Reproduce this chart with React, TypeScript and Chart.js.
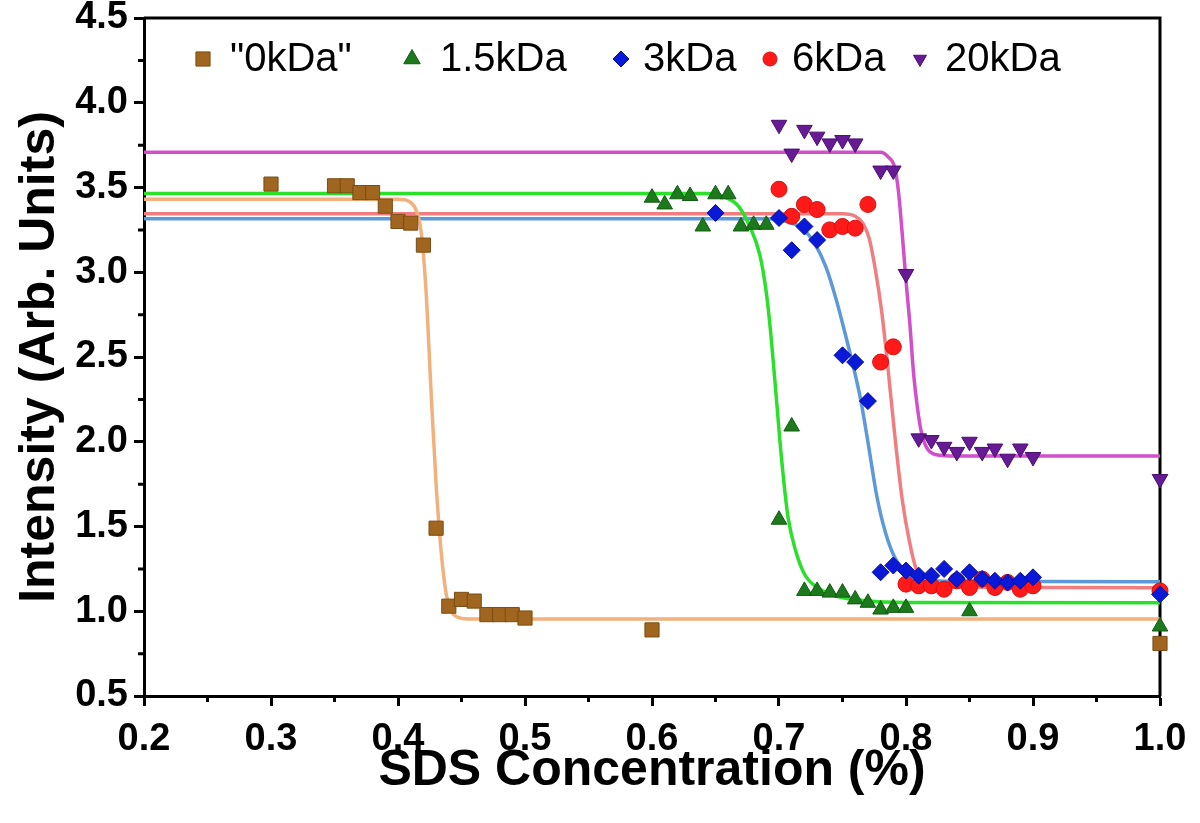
import React, { useRef, useEffect } from 'react';
import Chart from 'chart.js/auto';
import { drawPoint } from 'chart.js/helpers';

const kda0X = [0.30, 0.35, 0.36, 0.37, 0.38, 0.39, 0.40, 0.41, 0.42, 0.43, 0.44, 0.45, 0.46, 0.47, 0.48, 0.49, 0.50, 0.60, 1.00];
const kda0Y = [3.52, 3.51, 3.51, 3.47, 3.47, 3.39, 3.30, 3.29, 3.16, 1.49, 1.03, 1.07, 1.06, 0.98, 0.98, 0.98, 0.96, 0.89, 0.81];

const kda15X = [0.60, 0.61, 0.62, 0.63, 0.64, 0.65, 0.66, 0.67, 0.68, 0.69, 0.70, 0.71, 0.72, 0.73, 0.74, 0.75, 0.76, 0.77, 0.78, 0.79, 0.80, 0.85, 1.00];
const kda15Y = [3.44, 3.40, 3.46, 3.45, 3.27, 3.46, 3.46, 3.27, 3.28, 3.28, 1.54, 2.09, 1.12, 1.12, 1.11, 1.11, 1.07, 1.05, 1.01, 1.02, 1.02, 1.00, 0.91];

const kda3X = [0.65, 0.70, 0.71, 0.72, 0.73, 0.75, 0.76, 0.77, 0.78, 0.79, 0.80, 0.81, 0.82, 0.83, 0.84, 0.85, 0.86, 0.87, 0.88, 0.89, 0.90, 1.00];
const kda3Y = [3.35, 3.32, 3.13, 3.27, 3.19, 2.51, 2.47, 2.24, 1.23, 1.27, 1.24, 1.21, 1.21, 1.25, 1.19, 1.23, 1.19, 1.18, 1.17, 1.18, 1.20, 1.10];

const kda6X = [0.70, 0.71, 0.72, 0.73, 0.74, 0.75, 0.76, 0.77, 0.78, 0.79, 0.80, 0.81, 0.82, 0.83, 0.84, 0.85, 0.86, 0.87, 0.88, 0.89, 0.90, 1.00];
const kda6Y = [3.49, 3.33, 3.40, 3.37, 3.25, 3.27, 3.26, 3.40, 2.47, 2.56, 1.16, 1.15, 1.15, 1.13, 1.18, 1.14, 1.19, 1.14, 1.17, 1.13, 1.15, 1.12];

const kda20X = [0.70, 0.71, 0.72, 0.73, 0.74, 0.75, 0.76, 0.78, 0.79, 0.80, 0.81, 0.82, 0.83, 0.84, 0.85, 0.86, 0.87, 0.88, 0.89, 0.90, 1.00];
const kda20Y = [3.87, 3.70, 3.84, 3.80, 3.76, 3.78, 3.76, 3.60, 3.60, 2.99, 2.02, 2.01, 1.97, 1.94, 2.00, 1.94, 1.96, 1.90, 1.96, 1.91, 1.78];

// fitted sigmoid curves
const fit0X = [0.20, 0.40, 0.408, 0.414, 0.418, 0.422, 0.426, 0.430, 0.434, 0.438, 0.442, 0.447, 0.455, 1.00];
const fit0Y = [3.43, 3.43, 3.42, 3.37, 3.25, 2.90, 2.30, 1.75, 1.35, 1.10, 1.00, 0.965, 0.955, 0.955];

const fit15X = [0.20, 0.645, 0.658, 0.668, 0.677, 0.685, 0.690, 0.694, 0.698, 0.702, 0.707, 0.713, 0.720, 0.730, 0.745, 0.770, 0.800, 1.00];
const fit15Y = [3.465, 3.465, 3.44, 3.39, 3.27, 3.10, 2.88, 2.60, 2.25, 1.90, 1.56, 1.36, 1.22, 1.14, 1.09, 1.06, 1.052, 1.05];

const fit3X = [0.20, 0.690, 0.705, 0.718, 0.728, 0.737, 0.745, 0.752, 0.758, 0.764, 0.770, 0.777, 0.784, 0.791, 0.800, 0.812, 0.830, 1.00];
const fit3Y = [3.315, 3.315, 3.30, 3.26, 3.17, 3.03, 2.84, 2.64, 2.46, 2.26, 2.00, 1.68, 1.46, 1.32, 1.23, 1.19, 1.177, 1.174];

const fit6X = [0.20, 0.750, 0.760, 0.766, 0.771, 0.776, 0.781, 0.786, 0.791, 0.797, 0.803, 0.808, 0.815, 0.830, 1.00];
const fit6Y = [3.345, 3.345, 3.33, 3.29, 3.20, 3.01, 2.76, 2.42, 2.05, 1.66, 1.40, 1.25, 1.17, 1.142, 1.139];

const fit20X = [0.20, 0.780, 0.786, 0.791, 0.794, 0.797, 0.800, 0.803, 0.806, 0.809, 0.812, 0.816, 0.823, 0.840, 1.00];
const fit20Y = [3.708, 3.708, 3.68, 3.62, 3.48, 3.23, 2.95, 2.70, 2.40, 2.20, 2.06, 1.97, 1.925, 1.916, 1.916];

const xTicks = [0.2, 0.3, 0.4, 0.5, 0.6, 0.7, 0.8, 0.9, 1.0];
const yTicks = [0.5, 1.0, 1.5, 2.0, 2.5, 3.0, 3.5, 4.0, 4.5];

const FONT = "'Liberation Sans', Arial, Helvetica, sans-serif";

const series = [
  { label: '"0kDa"', x: kda0X, y: kda0Y, fx: fit0X, fy: fit0Y, style: 'rect', rot: 0, r: 10, fill: '#A0661F', edge: '#7A4C12', line: '#F2B07C' },
  { label: '1.5kDa', x: kda15X, y: kda15Y, fx: fit15X, fy: fit15Y, style: 'triangle', rot: 0, r: 9, fill: '#1C7A1C', edge: '#125A12', line: '#2BE02B' },
  { label: '3kDa', x: kda3X, y: kda3Y, fx: fit3X, fy: fit3Y, style: 'rectRot', rot: 0, r: 8.5, fill: '#0A18D8', edge: '#0610A0', line: '#5C98DA' },
  { label: '6kDa', x: kda6X, y: kda6Y, fx: fit6X, fy: fit6Y, style: 'circle', rot: 0, r: 8, fill: '#FF1A1A', edge: '#D81010', line: '#F07E80' },
  { label: '20kDa', x: kda20X, y: kda20Y, fx: fit20X, fy: fit20Y, style: 'triangle', rot: 180, r: 9, fill: '#661A94', edge: '#4A0F70', line: '#D24FCB' },
];

// legend slots relative to the plot's left edge
const legendMarkX = [59, 268, 477, 626, 776];
const legendTextX = [86, 296, 499, 648, 801];
const legendMarkR = [10, 9.5, 8, 7, 7.5];

const framePlugin = {
  id: 'frameAndMinor',
  beforeDatasetsDraw(chart: any) {
    const { ctx, chartArea, scales } = chart;
    ctx.save();
    ctx.strokeStyle = '#000';
    ctx.lineWidth = 3;
    ctx.beginPath();
    ctx.moveTo(chartArea.left, chartArea.top);
    ctx.lineTo(chartArea.right, chartArea.top);
    ctx.lineTo(chartArea.right, chartArea.bottom);
    ctx.stroke();
    // minor ticks
    ctx.beginPath();
    for (let i = 0; i < xTicks.length - 1; i++) {
      const px = scales.x.getPixelForValue((xTicks[i] + xTicks[i + 1]) / 2);
      ctx.moveTo(px, chartArea.bottom);
      ctx.lineTo(px, chartArea.bottom + 6);
    }
    for (let i = 0; i < yTicks.length - 1; i++) {
      const py = scales.y.getPixelForValue((yTicks[i] + yTicks[i + 1]) / 2);
      ctx.moveTo(chartArea.left, py);
      ctx.lineTo(chartArea.left - 6, py);
    }
    ctx.stroke();
    ctx.restore();
  },
};

const legendPlugin = {
  id: 'insideLegend',
  afterDatasetsDraw(chart: any) {
    const { ctx, chartArea } = chart;
    ctx.save();
    ctx.font = `40px ${FONT}`;
    ctx.textBaseline = 'middle';
    ctx.textAlign = 'left';
    const cy = chartArea.top + 41;
    series.forEach((s, i) => {
      ctx.fillStyle = s.fill;
      ctx.strokeStyle = s.edge;
      ctx.lineWidth = 1;
      drawPoint(ctx, { pointStyle: s.style as any, rotation: s.rot, radius: legendMarkR[i], borderWidth: 1 }, chartArea.left + legendMarkX[i], cy);
      ctx.fillStyle = '#000';
      ctx.fillText(s.label, chartArea.left + legendTextX[i], cy + 1);
    });
    ctx.restore();
  },
};

const App: React.FC = () => {
  const canvasRef = useRef<HTMLCanvasElement>(null);
  const chartRef = useRef<Chart | null>(null);

  useEffect(() => {
    if (!canvasRef.current) return;
    if (chartRef.current) chartRef.current.destroy();

    const markerSets = series.map((s) => ({
      label: s.label,
      data: s.x.map((v, i) => ({ x: v, y: s.y[i] })),
      pointStyle: s.style,
      rotation: s.rot,
      pointRadius: s.r,
      pointBackgroundColor: s.fill,
      pointBorderColor: s.edge,
      pointBorderWidth: 1,
      backgroundColor: s.fill,
      borderColor: s.edge,
      showLine: false,
      clip: false as any,
      order: 0,
    }));

    const curveSets = series.map((s) => ({
      label: s.label + ' fit',
      data: s.fx.map((v, i) => ({ x: v, y: s.fy[i] })),
      showLine: true,
      borderColor: s.line,
      borderWidth: 3.5,
      pointRadius: 0,
      cubicInterpolationMode: 'monotone' as const,
      order: 1,
    }));

    const tickFont = { family: FONT, size: 38, weight: 'bold' as const };
    const titleFont = { family: FONT, size: 50, weight: 'bold' as const };

    chartRef.current = new Chart(canvasRef.current, {
      type: 'scatter',
      data: { datasets: [...markerSets, ...curveSets] as any },
      options: {
        animation: false,
        responsive: true,
        maintainAspectRatio: false,
        layout: { padding: { top: 18, right: 40, left: 0, bottom: 0 } },
        plugins: {
          legend: { display: false },
          tooltip: { enabled: false },
        },
        scales: {
          x: {
            type: 'linear',
            min: 0.2,
            max: 1.0,
            afterBuildTicks: (scale: any) => {
              scale.ticks = xTicks.map((v) => ({ value: v }));
            },
            afterFit: (scale: any) => {
              scale.height = 127;
              scale.paddingLeft = 0;
              scale.paddingRight = 0;
            },
            ticks: {
              color: '#000',
              font: tickFont,
              padding: 11,
              autoSkip: false,
              maxRotation: 0,
              callback: (v: any) => Number(v).toFixed(1),
            },
            grid: { drawOnChartArea: false, tickLength: 10, tickWidth: 3, tickColor: '#000' },
            border: { color: '#000', width: 3 },
            title: {
              display: true,
              text: 'SDS Concentration (%)',
              color: '#000',
              font: titleFont,
              padding: { top: 0, bottom: 22 },
            },
          },
          y: {
            type: 'linear',
            min: 0.5,
            max: 4.5,
            afterBuildTicks: (scale: any) => {
              scale.ticks = yTicks.map((v) => ({ value: v }));
            },
            afterFit: (scale: any) => {
              scale.width = 144;
              scale.paddingTop = 0;
              scale.paddingBottom = 0;
            },
            ticks: {
              color: '#000',
              font: tickFont,
              padding: 6,
              autoSkip: false,
              callback: (v: any) => Number(v).toFixed(1),
            },
            grid: { drawOnChartArea: false, tickLength: 10, tickWidth: 3, tickColor: '#000' },
            border: { color: '#000', width: 3 },
            title: {
              display: true,
              text: 'Intensity (Arb. Units)',
              color: '#000',
              font: titleFont,
              padding: { top: 10, bottom: 0 },
            },
          },
        },
      },
      plugins: [framePlugin, legendPlugin],
    });

    return () => {
      if (chartRef.current) {
        chartRef.current.destroy();
        chartRef.current = null;
      }
    };
  }, []);

  return (
    <div style={{ position: 'fixed', left: 0, top: 0, width: 1200, height: 823, background: '#fff' }}>
      <canvas ref={canvasRef} />
    </div>
  );
};

export default App;
